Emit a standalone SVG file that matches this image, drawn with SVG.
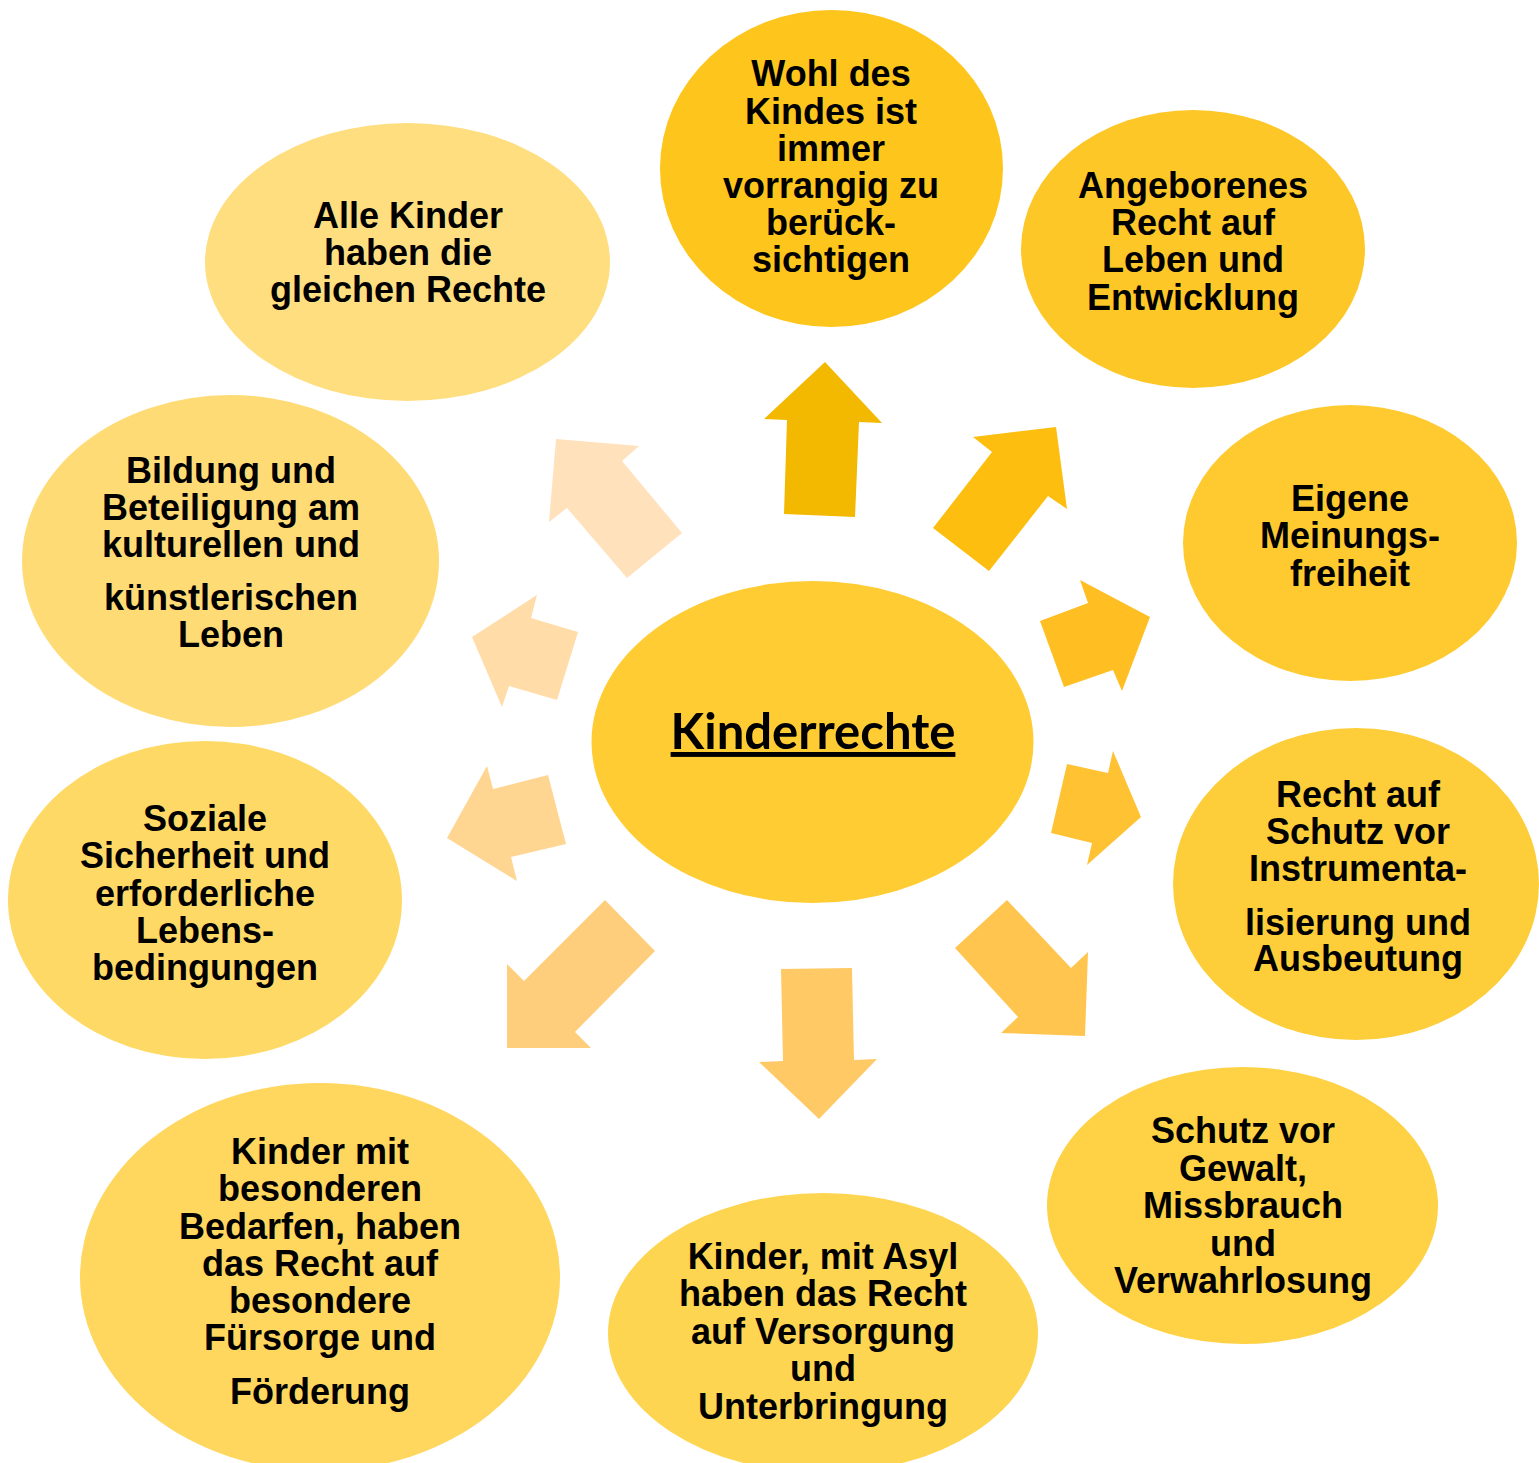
<svg xmlns="http://www.w3.org/2000/svg" width="1539" height="1463" viewBox="0 0 1539 1463">
<style>
.t{font-family:"Liberation Sans",Arial,sans-serif;font-weight:bold;font-size:36px;fill:#000;text-anchor:middle}
.c{font-family:Lato,"Liberation Sans",sans-serif;font-weight:bold;font-size:49px;fill:#000;text-anchor:middle}
</style>
<rect width="1539" height="1463" fill="#ffffff"/>
<g id="connectors">
<polygon fill="#F3B800" points="825,362 882,423 859,422 855,517 784,514 787,420 764,419"/>
<polygon fill="#FDBE0F" points="1056,427 1067,509 1048,496 989,571 933,528 992,452 973,437"/>
<polygon fill="#FFBF22" points="1040,621 1088,603 1080,580 1150,617 1122,691 1113,670 1064,687"/>
<polygon fill="#FFC233" points="1067,764 1108,773 1113,751 1141,817 1087,865 1092,843 1051,833"/>
<polygon fill="#FFC54E" points="955,948 1007,900 1071,968 1088,952 1085,1036 1001,1033 1018,1017"/>
<polygon fill="#FFC966" points="781,969 852,968 854,1060 877,1059 819,1119 759,1062 783,1061"/>
<polygon fill="#FFCE7C" points="507,1048 507,964 524,981 605,900 655,951 575,1032 591,1048"/>
<polygon fill="#FFD592" points="447,838 487,766 493,789 548,775 566,844 511,857 517,881"/>
<polygon fill="#FFDCA8" points="472,637 537,595 531,618 578,632 557,700 509,686 502,707"/>
<polygon fill="#FFE1BC" points="556,439 639,446 622,461 682,533 627,578 567,508 549,522"/>
</g>
<g id="center">
<ellipse cx="812.5" cy="742" rx="221" ry="161" fill="#FFCC33"/>
<text class="c" x="813" y="749" text-decoration="underline">Kinderrechte</text>
</g>
<g id="wohl">
<ellipse cx="831.5" cy="168.5" rx="171.5" ry="158.5" fill="#FEC51C"/>
<text class="t"><tspan x="831" y="86">Wohl des</tspan><tspan x="831" y="124">Kindes ist</tspan><tspan x="831" y="161">immer</tspan><tspan x="831" y="198">vorrangig zu</tspan><tspan x="831" y="235">berück-</tspan><tspan x="831" y="272">sichtigen</tspan></text>
</g>
<g id="angeborenes">
<ellipse cx="1193" cy="249" rx="172" ry="139" fill="#FEC728"/>
<text class="t"><tspan x="1193" y="198">Angeborenes</tspan><tspan x="1193" y="235">Recht auf</tspan><tspan x="1193" y="272">Leben und</tspan><tspan x="1193" y="310">Entwicklung</tspan></text>
</g>
<g id="eigene">
<ellipse cx="1350" cy="543" rx="167" ry="138" fill="#FECA30"/>
<text class="t"><tspan x="1350" y="511">Eigene</tspan><tspan x="1350" y="548">Meinungs-</tspan><tspan x="1350" y="586">freiheit</tspan></text>
</g>
<g id="instrumentalisierung">
<ellipse cx="1356" cy="884" rx="183" ry="156" fill="#FECE3A"/>
<text class="t"><tspan x="1358" y="807">Recht auf</tspan><tspan x="1358" y="844">Schutz vor</tspan><tspan x="1358" y="881">Instrumenta-</tspan><tspan x="1358" y="935">lisierung und</tspan><tspan x="1358" y="971">Ausbeutung</tspan></text>
</g>
<g id="gewalt">
<ellipse cx="1242.5" cy="1205.5" rx="195.5" ry="138.5" fill="#FED244"/>
<text class="t"><tspan x="1243" y="1143">Schutz vor</tspan><tspan x="1243" y="1181">Gewalt,</tspan><tspan x="1243" y="1218">Missbrauch</tspan><tspan x="1243" y="1256">und</tspan><tspan x="1243" y="1293">Verwahrlosung</tspan></text>
</g>
<g id="asyl">
<ellipse cx="823" cy="1333" rx="215" ry="140" fill="#FED550"/>
<text class="t"><tspan x="823" y="1269">Kinder, mit Asyl</tspan><tspan x="823" y="1306">haben das Recht</tspan><tspan x="823" y="1344">auf Versorgung</tspan><tspan x="823" y="1381">und</tspan><tspan x="823" y="1419">Unterbringung</tspan></text>
</g>
<g id="bedarfe">
<ellipse cx="320" cy="1277" rx="240" ry="194" fill="#FFD65E"/>
<text class="t"><tspan x="320" y="1164">Kinder mit</tspan><tspan x="320" y="1201">besonderen</tspan><tspan x="320" y="1239">Bedarfen, haben</tspan><tspan x="320" y="1276">das Recht auf</tspan><tspan x="320" y="1313">besondere</tspan><tspan x="320" y="1350">Fürsorge und</tspan><tspan x="320" y="1404">Förderung</tspan></text>
</g>
<g id="soziale">
<ellipse cx="205" cy="900" rx="197" ry="159" fill="#FFD966"/>
<text class="t"><tspan x="205" y="831">Soziale</tspan><tspan x="205" y="868">Sicherheit und</tspan><tspan x="205" y="906">erforderliche</tspan><tspan x="205" y="943">Lebens-</tspan><tspan x="205" y="980">bedingungen</tspan></text>
</g>
<g id="bildung">
<ellipse cx="230.5" cy="561" rx="208.5" ry="166" fill="#FFDB75"/>
<text class="t"><tspan x="231" y="483">Bildung und</tspan><tspan x="231" y="520">Beteiligung am</tspan><tspan x="231" y="557">kulturellen und</tspan><tspan x="231" y="610">künstlerischen</tspan><tspan x="231" y="647">Leben</tspan></text>
</g>
<g id="gleiche">
<ellipse cx="407.5" cy="262" rx="202.5" ry="139" fill="#FFDE80"/>
<text class="t"><tspan x="408" y="228">Alle Kinder</tspan><tspan x="408" y="265">haben die</tspan><tspan x="408" y="302">gleichen Rechte</tspan></text>
</g>
</svg>
